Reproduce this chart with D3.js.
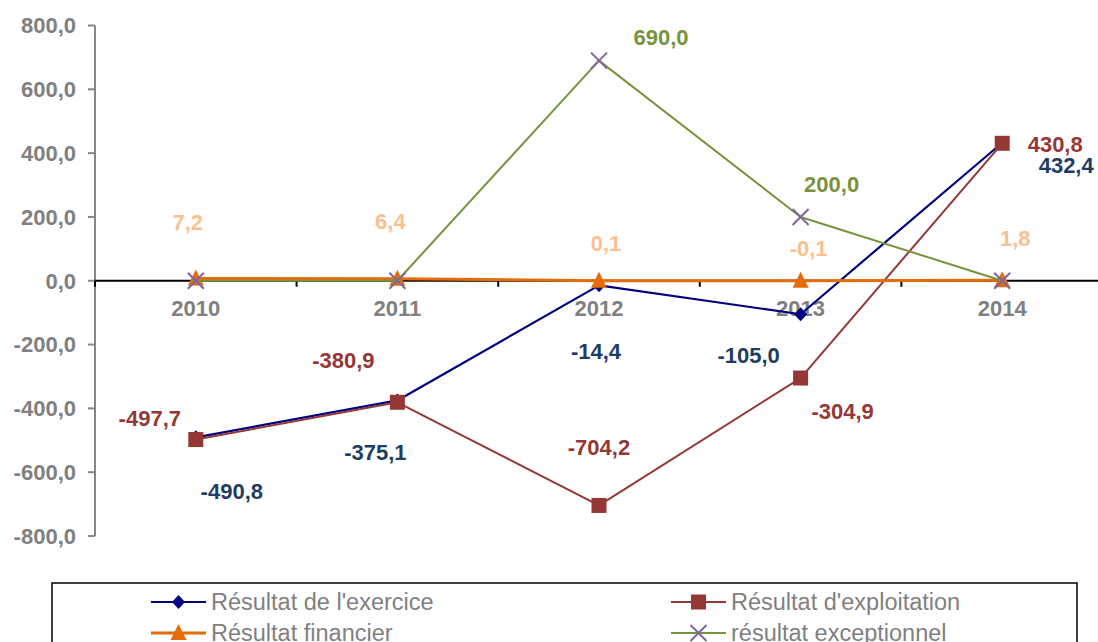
<!DOCTYPE html>
<html><head><meta charset="utf-8">
<script src="https://cdn.jsdelivr.net/npm/d3@7"></script>
<style>
html,body{margin:0;padding:0;background:#fff;overflow:hidden}
svg{display:block;font-family:"Liberation Sans",Arial,sans-serif}
</style></head><body>
<svg id="c" width="1098" height="642"></svg>
<script>
const years = ["2010","2011","2012","2013","2014"];
const exercice = [-490.8, -375.1, -14.4, -105.0, 432.4];
const exploitation = [-497.7, -380.9, -704.2, -304.9, 430.8];
const financier = [7.2, 6.4, 0.1, -0.1, 1.8];
const exceptionnel = [0, 0, 690.0, 200.0, 0];
const yTicks = [-800,-600,-400,-200,0,200,400,600,800];
const seriesNames = ["Résultat de l'exercice","Résultat d'exploitation","Résultat financier","résultat exceptionnel"];
// which points carry a data label
const showLabel = {
  exercice:[true,true,true,true,true],
  exploitation:[true,true,true,true,true],
  financier:[true,true,true,true,true],
  exceptionnel:[false,false,true,true,false]
};
// label offsets (style/placement, px relative to the point)
const labelOffsets = {
  exercice:[[36,54],[-22,52],[-3,66],[-52,41],[64,22]],
  exploitation:[[-46,-21],[-54,-42],[0,-58],[42,33],[53,1]],
  financier:[[-8,-56],[-7,-58],[7,-38],[8,-33],[13,-42]],
  exceptionnel:[[0,0],[0,0],[62,-24],[31,-33],[0,0]]
};

const svg = d3.select("#c");
const fr = d3.formatLocale({decimal:",",thousands:"\u00a0",grouping:[3],currency:["","€"],minus:"-"});
const fmt = fr.format(".1f");

const x = d3.scaleBand().domain(years).range([95, 1103]).padding(0);
const y = d3.scaleLinear().domain([-800, 800]).range([536, 25.5]);
const cx = d => x(d) + x.bandwidth()/2;

// Y axis
const gy = svg.append("g");
gy.append("line").attr("x1",95).attr("x2",95).attr("y1",y(800)).attr("y2",y(-800))
  .attr("stroke","#868686").attr("stroke-width",2);
gy.selectAll("line.t").data(yTicks).enter().append("line").attr("class","t")
  .attr("x1",88).attr("x2",95).attr("y1",d=>y(d)).attr("y2",d=>y(d))
  .attr("stroke","#868686").attr("stroke-width",2);
gy.selectAll("text").data(yTicks).enter().append("text")
  .attr("x",76).attr("y",d=>y(d)).attr("dy","0.36em").attr("text-anchor","end")
  .attr("fill","#808080").attr("font-weight","bold").attr("font-size",22)
  .text(d=>fmt(d));

// X axis at zero
const gx = svg.append("g");
gx.append("line").attr("x1",95).attr("x2",x.range()[1]).attr("y1",y(0)).attr("y2",y(0))
  .attr("stroke","#000").attr("stroke-width",2);
const bounds = years.map(d=>x(d)).concat([x.range()[1]]);
gx.selectAll("line.t").data(bounds).enter().append("line").attr("class","t")
  .attr("x1",d=>d).attr("x2",d=>d).attr("y1",y(0)).attr("y2",y(0)+6)
  .attr("stroke","#000").attr("stroke-width",2);
gx.selectAll("text").data(years).enter().append("text")
  .attr("x",d=>cx(d)).attr("y",y(0)+27).attr("dy","0.36em").attr("text-anchor","middle")
  .attr("fill","#808080").attr("font-weight","bold").attr("font-size",22)
  .text(d=>d);

const series = [
  {key:"exercice", vals:exercice, line:"#000080", lw:2.2, marker:"diamond", mc:"#000080", lc:"#1F3D63"},
  {key:"exploitation", vals:exploitation, line:"#953735", lw:2, marker:"square", mc:"#953735", lc:"#953735"},
  {key:"financier", vals:financier, line:"#E46C0A", lw:3, marker:"triangle", mc:"#E46C0A", lc:"#FAC090"},
  {key:"exceptionnel", vals:exceptionnel, line:"#77933C", lw:2, marker:"x", mc:"#8064A2", lc:"#77933C"}
];

function drawMarker(g, type, px, py, color){
  if(type==="diamond"){
    g.append("path").attr("d",`M${px},${py-7}L${px+6.5},${py}L${px},${py+7}L${px-6.5},${py}Z`).attr("fill",color);
  } else if(type==="square"){
    g.append("rect").attr("x",px-7.5).attr("y",py-7.5).attr("width",15).attr("height",15).attr("fill",color);
  } else if(type==="triangle"){
    g.append("path").attr("d",`M${px},${py-9}L${px+8},${py+7}L${px-8},${py+7}Z`).attr("fill",color);
  } else {
    g.append("path").attr("d",`M${px-8},${py-8}L${px+8},${py+8}M${px+8},${py-8}L${px-8},${py+8}`)
      .attr("stroke",color).attr("stroke-width",2).attr("fill","none");
  }
}

const line = d3.line().x(d=>cx(d.year)).y(d=>y(d.v));
series.forEach(s=>{
  const pts = years.map((yr,i)=>({year:yr, v:s.vals[i]}));
  const g = svg.append("g");
  g.append("path").datum(pts).attr("d",line).attr("fill","none")
    .attr("stroke",s.line).attr("stroke-width",s.lw).attr("stroke-linejoin","round");
  pts.forEach(p=>drawMarker(g, s.marker, cx(p.year), y(p.v), s.mc));
});

// data labels
series.forEach(s=>{
  years.forEach((yr,i)=>{
    if(!showLabel[s.key][i]) return;
    const o = labelOffsets[s.key][i];
    svg.append("text").attr("x",cx(yr)+o[0]).attr("y",y(s.vals[i])+o[1]).attr("dy","0.36em")
      .attr("text-anchor","middle").attr("font-weight","bold").attr("font-size",22)
      .attr("fill",s.lc).text(fmt(s.vals[i]));
  });
});

// legend
const lg = svg.append("g");
lg.append("rect").attr("x",52).attr("y",583).attr("width",1025).attr("height",90)
  .attr("fill","none").attr("stroke","#000").attr("stroke-width",1.5);
const legPos = [[151,602],[671,602],[151,633],[671,633]];
series.forEach((s,i)=>{
  const [lx,ly] = legPos[i];
  lg.append("line").attr("x1",lx).attr("x2",lx+55).attr("y1",ly).attr("y2",ly)
    .attr("stroke",s.line).attr("stroke-width",s.lw);
  drawMarker(lg, s.marker, lx+27.5, ly, s.mc);
  lg.append("text").attr("x",lx+60).attr("y",ly).attr("dy","0.36em")
    .attr("fill","#808080").attr("font-size",23.5).text(seriesNames[i]);
});
</script>
</body></html>
